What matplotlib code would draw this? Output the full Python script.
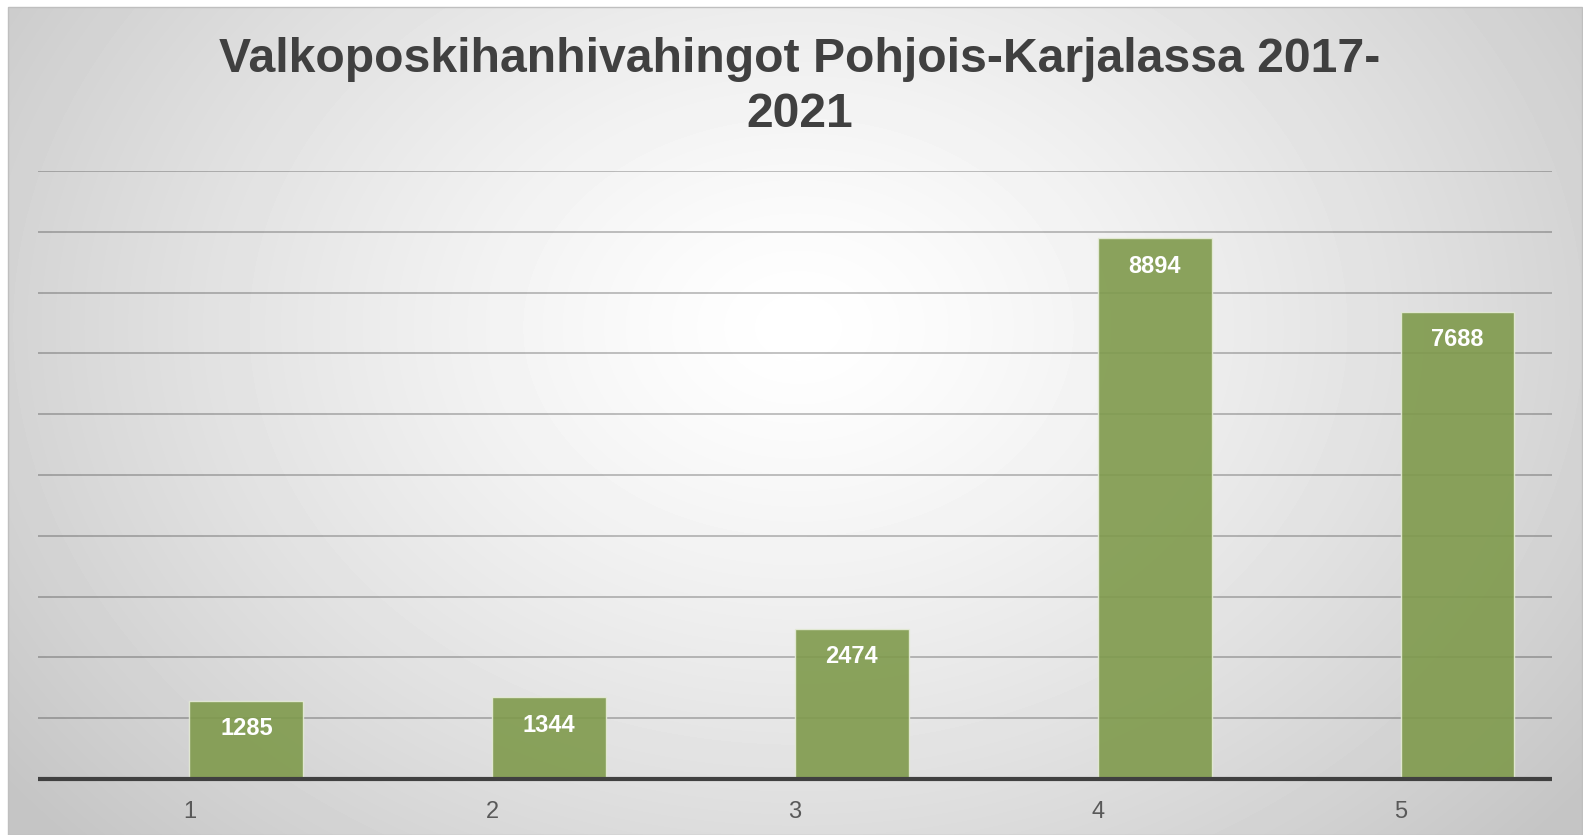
import numpy as np
from matplotlib import pyplot as plt

plt.rcParams['font.family'] = ['Liberation Sans', 'DejaVu Sans']

categories = [1, 2, 3, 4, 5]
damages = [1285, 1344, 2474, 8894, 7688]
title = 'Valkoposkihanhivahingot Pohjois-Karjalassa 2017-\n2021'

W, H = 1583, 835
fig = plt.figure(figsize=(W / 100, H / 100), dpi=100)

# radial gradient background (white centre, grey edges)
bg = fig.add_axes([8 / W, 0, (1582 - 8) / W, (H - 7) / H], zorder=-1)
yy, xx = np.mgrid[0:828, 0:1574]
r = np.sqrt(((xx - 790) / 1000) ** 2 + ((yy - 320) / 760) ** 2)
shade = 1 - (1 - 0.77) * np.clip(r, 0, 1) ** 1.3
bg.imshow(shade, cmap='gray', vmin=0, vmax=1, aspect='auto', interpolation='bilinear')
bg.set_axis_off()
fig.patches.append(plt.Rectangle((8 / W, 0), (1582 - 8) / W, (H - 7) / H,
                                 transform=fig.transFigure, fill=False,
                                 edgecolor='#bfbfbf', lw=1, zorder=0))

ax = fig.add_axes([38 / W, 1 - 779 / H, (1552 - 38) / W, (779 - 171) / H])
ax.set_facecolor('none')
ax.set_xlim(0.5, 5.5)
ax.set_ylim(0, 10000)
ax.set_yticks(range(0, 10001, 1000))
ax.yaxis.grid(True, color='#000000', alpha=0.28, lw=1.2)
ax.set_axisbelow(True)
ax.tick_params(axis='y', left=False, labelleft=False)

w = 0.376
bars = ax.bar(categories, damages, width=w, align='edge', color='#7f9a4c',
              alpha=0.9, edgecolor='#e6ecd8', linewidth=1, zorder=2)
for x, v in zip(categories, damages):
    ax.annotate(str(v), (x + w / 2, v), xytext=(0, -20), textcoords='offset points',
                ha='center', va='center', color='white', fontsize=17,
                fontweight='bold', zorder=3)

for s in ['top', 'right', 'left']:
    ax.spines[s].set_visible(False)
ax.spines['bottom'].set_color('#404040')
ax.spines['bottom'].set_linewidth(3)
ax.spines['bottom'].set_zorder(4)
ax.spines['bottom'].set_capstyle('butt')
ax.set_xticks(categories)
ax.set_xticklabels([str(c) for c in categories])
ax.tick_params(axis='x', length=0, pad=16, labelsize=17, labelcolor='#595959')

fig.text(800 / W, 1 - 37 / H, title, ha='center', va='top', fontsize=34.7,
         fontweight='bold', color='#404040', linespacing=1.28)

fig.savefig('out.png', dpi=100)
